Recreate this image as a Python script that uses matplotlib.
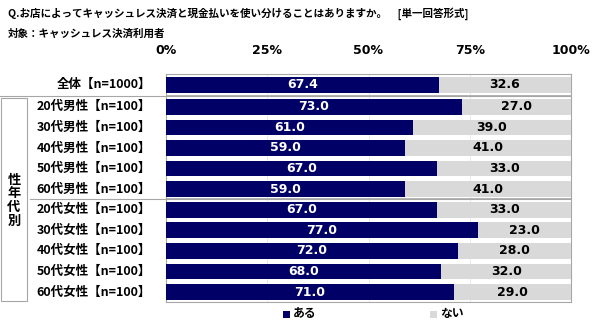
import matplotlib
matplotlib.use("Agg")
import matplotlib.pyplot as plt
import matplotlib.transforms as mtransforms
from matplotlib.patches import Rectangle
from matplotlib.lines import Line2D

plt.rcParams['font.family'] = ['Noto Sans CJK JP', 'DejaVu Sans']

categories = ["全体【n=1000】",
              "20代男性【n=100】", "30代男性【n=100】", "40代男性【n=100】",
              "50代男性【n=100】", "60代男性【n=100】",
              "20代女性【n=100】", "30代女性【n=100】", "40代女性【n=100】",
              "50代女性【n=100】", "60代女性【n=100】"]
aru = [67.4, 73.0, 61.0, 59.0, 67.0, 59.0, 67.0, 77.0, 72.0, 68.0, 71.0]
nai = [32.6, 27.0, 39.0, 41.0, 33.0, 41.0, 33.0, 23.0, 28.0, 32.0, 29.0]
series_names = ["ある", "ない"]
tick_labels = ["0%", "25%", "50%", "75%", "100%"]
tick_values = [0, 25, 50, 75, 100]
title = "Q.お店によってキャッシュレス決済と現金払いを使い分けることはありますか。　[単一回答形式]"
subtitle = "対象：キャッシュレス決済利用者"
group_label = "性年代別"

NAVY = "#000066"
GRAY = "#d9d9d9"
FRAME = "#a6a6a6"

fig = plt.figure(figsize=(6, 3.25), dpi=100)
W, H = 600, 325
ax = fig.add_axes([166/W, 1-302/H, (571-166)/W, (302-74)/H])

# y positions (row layout)
ypos = [0.0] + [1.076 + i for i in range(10)]
bh = 0.76
ax.barh(ypos, aru, height=bh, color=NAVY, zorder=3)
ax.barh(ypos, nai, left=aru, height=bh, color=GRAY, zorder=3)

for y, a, n in zip(ypos, aru, nai):
    ax.text(a/2, y, f"{a:.1f}", ha='center', va='center', color='white',
            fontsize=9, fontweight='bold', family='DejaVu Sans', zorder=4)
    ax.text(a + n/2, y, f"{n:.1f}", ha='center', va='center', color='black',
            fontsize=9, fontweight='bold', family='DejaVu Sans', zorder=4)

ax.set_xlim(0, 100)
ax.set_ylim(10.56, -0.52)
ax.set_yticks([])
ax.set_xticks(tick_values)
ax.set_xticklabels(tick_labels, fontsize=9, fontweight='bold', family='DejaVu Sans')
ax.xaxis.tick_top()
ax.tick_params(axis='x', length=0, pad=12)
for s in ax.spines.values():
    s.set_color(FRAME)
    s.set_linewidth(0.8)
for v in [25, 50, 75]:
    ax.axvline(v, color='#e6e6e6', lw=0.6, zorder=1)

# category labels
trans = mtransforms.blended_transform_factory(fig.transFigure, ax.transData)
for y, c in zip(ypos, categories):
    ax.text(151/W, y, c, transform=trans, ha='right', va='center',
            fontsize=9, fontweight='bold')

# separators
sep1 = (ypos[0] + ypos[1]) / 2
sep2 = (ypos[5] + ypos[6]) / 2
ln1 = Line2D([0/W, 571/W], [sep1, sep1], color=FRAME, lw=0.8, transform=trans)
ln2 = Line2D([30/W, 571/W], [sep2, sep2], color=FRAME, lw=0.8, transform=trans)
fig.add_artist(ln1)
fig.add_artist(ln2)
for yy in [sep1 - 0.06, sep2 - 0.06]:
    l = Line2D([166/W, 571/W], [yy, yy], color=FRAME, lw=0.6, transform=trans)
    fig.add_artist(l)

# group box
fig.add_artist(Rectangle((1/W, 1-301/H), 26/W, (301-98)/H, transform=fig.transFigure,
                         fill=False, edgecolor=FRAME, lw=0.8))
for i, ch in enumerate(group_label):
    fig.text(14/W, 1-(180 + i*13.5)/H, ch, ha='center', va='center',
             fontsize=9.5, fontweight='bold')

# titles
fig.text(8/W, 1-14/H, title, ha='left', va='center', fontsize=7.6, fontweight='bold')
fig.text(8/W, 1-34/H, subtitle, ha='left', va='center', fontsize=7.6, fontweight='bold')

# legend
fig.add_artist(Rectangle((283/W, 1-318/H), 7/W, 7/H, transform=fig.transFigure,
                         color=NAVY, lw=0))
fig.text(293/W, 1-314/H, series_names[0], ha='left', va='center', fontsize=8.5,
         fontweight='bold')
fig.add_artist(Rectangle((430/W, 1-318/H), 7/W, 7/H, transform=fig.transFigure,
                         color=GRAY, lw=0))
fig.text(440/W, 1-314/H, series_names[1], ha='left', va='center', fontsize=8.5,
         fontweight='bold')

fig.savefig("out.png", dpi=100)
